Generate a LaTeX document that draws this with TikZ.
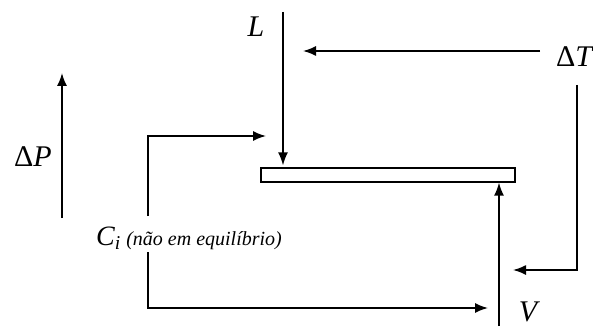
\documentclass[tikz,border=0pt]{standalone}
\usepackage{fontspec}
\setmainfont{Liberation Serif}
\usetikzlibrary{arrows.meta,positioning}
\begin{document}
\begin{tikzpicture}[x=0.5pt, y=-0.5pt, >={Latex[length=6.5pt,width=5pt]}, line width=0.8pt,
    lbl/.style={inner sep=0pt, font=\fontsize{15}{17}\selectfont\itshape},
    plate/.style={draw, line width=0.6pt, minimum width=127pt, minimum height=7pt, inner sep=0pt}]
    \useasboundingbox (0,0) rectangle (593,326);

    % plate and labels
    \node[plate] (plate) at (388,175) {};
    \node[lbl] (L) at (256,27) {L};
    \node[lbl] (dT) at (574,57) {{\upshape Δ}T};
    \node[lbl] (V) at (528,312) {V};
    \node[lbl] (dP) at (33,157) {{\upshape Δ}P};
    \node[inner sep=0pt, font=\fontsize{10}{12}\selectfont\itshape] (Ci) at (189,238)
        {\fontsize{14}{16}\selectfont C\textsubscript{i}\fontsize{10}{12}\selectfont\ (não em equilíbrio)};

    \coordinate (Ltop) at (283,12);
    \coordinate (dTa) at (540,51);
    \coordinate (dTaEnd) at (303,51);
    \coordinate (dTb) at (577,85);
    \coordinate (dTbEnd) at (513,270);
    \coordinate (Vbot) at (499,326);
    \coordinate (Citop) at (148,216);
    \coordinate (CitopEnd) at (266,136);
    \coordinate (Cibot) at (148,252);
    \coordinate (CibotEnd) at (488,308);
    \coordinate (dPa) at (62,218);
    \coordinate (dPb) at (62,73);

    \draw[->, shorten >=1pt] (Ltop) -- (Ltop |- plate.north);
    \draw[->] (Vbot) -- (Vbot |- plate.south);
    \draw[->] (dTa) -- (dTaEnd);
    \draw[->] (dTb) |- (dTbEnd);
    \draw[->] (Citop) |- (CitopEnd);
    \draw[->] (Cibot) |- (CibotEnd);
    \draw[->] (dPa) -- (dPb);
\end{tikzpicture}
\end{document}
